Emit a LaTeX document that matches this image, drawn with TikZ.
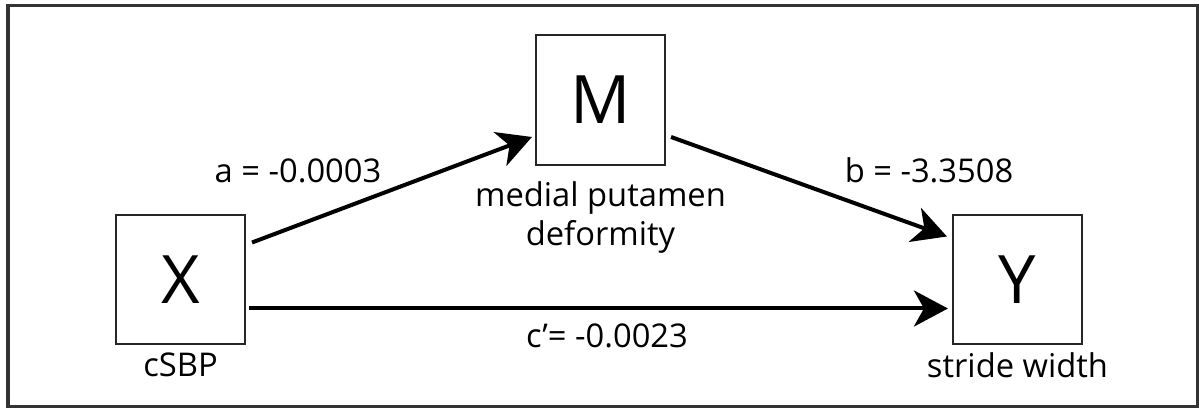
\documentclass[tikz,border=0pt]{standalone}
\usepackage{fontspec}
\setmainfont{Open Sans}
\usetikzlibrary{positioning,calc,arrows.meta}
\definecolor{framegray}{HTML}{333333}

\begin{document}
\begin{tikzpicture}[x=0.01cm,y=-0.01cm,
    varbox/.style={draw=black!85,line width=0.02cm,fill=white,minimum width=1.29cm,
        minimum height=1.29cm,inner sep=0pt,font=\fontsize{19}{22}\selectfont},
    varlab/.style={inner sep=0pt,align=center,font=\fontsize{9.3}{11.1}\selectfont},
    coef/.style={inner sep=0pt,font=\fontsize{9.3}{11.1}\selectfont},
    effect/.style={line width=0.04cm,-{Stealth[length=0.34cm,width=0.36cm,inset=0.1cm]}}]
  \useasboundingbox (0,0) rectangle (1199,410);
  \draw[framegray,line width=0.03cm] (8,6) rectangle (1197,407);
  % the three variables
  \node[varbox] (X) at (180.5,279.5) {X};
  \node[varbox] (M) at (600.5,100) {M};
  \node[varbox] (Y) at (1017.5,279.5) {Y};
  \node[varlab,anchor=base] (Xlab) at ($(X.south)+(0,31)$) {cSBP};
  \node[varlab,anchor=north] (Mlab) at ($(M.south)+(0,15)$) {medial putamen\\deformity};
  \node[varlab,anchor=base] (Ylab) at ($(Y.south)+(0,32)$) {stride width};
  % paths
  \draw[effect] ($(X.east)+(6,-37)$) -- ($(M.west)+(-3,37)$);
  \draw[effect] ($(M.east)+(5,37)$) -- ($(Y.west)+(-5,-43)$);
  \draw[effect] ($(X.east)+(3,29)$) -- ($(Y.west)+(-4,29)$);
  \node[coef] (a) at (298,171) {a = -0.0003};
  \node[coef] (b) at (929,170) {b = -3.3508};
  \node[coef] (c) at (607,336) {c’= -0.0023};
\end{tikzpicture}
\end{document}
